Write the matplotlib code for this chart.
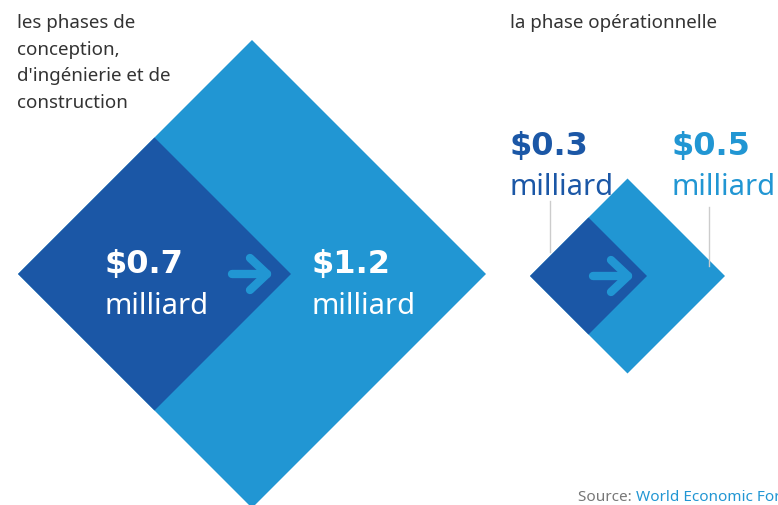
import matplotlib.pyplot as plt
from matplotlib.patches import Polygon

# values in billions of dollars
phases = ['les phases de\nconception,\nd\'ingénierie et de\nconstruction', 'la phase opérationnelle']
before = [0.7, 0.3]
after = [1.2, 0.5]
labels_before = ['$0.7', '$0.3']
labels_after = ['$1.2', '$0.5']
unit = 'milliard'

DARK = '#1b57a6'
LIGHT = '#2196d3'
TEXT = '#333333'
FONT = ['Noto Sans', 'DejaVu Sans']
BOLD = ['DejaVu Sans']

px_per_bn = 195.0
left_x = [18, 530]
mid_y = [275, 277]
arrow_x = [232, 593]

fig = plt.figure(figsize=(7.78, 5.06), dpi=100)
ax = fig.add_axes([0, 0, 1, 1])
ax.set_xlim(0, 778)
ax.set_ylim(506, 0)
ax.axis('off')


def diamond(x0, y0, half, color):
    cx = x0 + half
    pts = [(x0, y0), (cx, y0 - half), (cx + half, y0), (cx, y0 + half)]
    ax.add_patch(Polygon(pts, closed=True, facecolor=color, edgecolor='none'))


def arrow(x0, y0, color):
    ax.plot([x0, x0 + 35], [y0, y0], color=color, lw=6, solid_capstyle='round')
    ax.plot([x0 + 18, x0 + 35, x0 + 18], [y0 - 16, y0, y0 + 16], color=color, lw=6,
            solid_capstyle='round', solid_joinstyle='round')


for i in range(2):
    diamond(left_x[i], mid_y[i], after[i] * px_per_bn, LIGHT)
    diamond(left_x[i], mid_y[i], before[i] * px_per_bn, DARK)
    arrow(arrow_x[i], mid_y[i], LIGHT)

# left pair labels (inside)
ax.text(17, 14, phases[0], fontsize=13.5, color=TEXT, family=FONT, va='top', ha='left', linespacing=1.62)
ax.text(105, 264, labels_before[0], fontsize=23, color='white', family=BOLD, weight='bold', va='center')
ax.text(105, 306, unit, fontsize=21, color='white', family=FONT, va='center')
ax.text(312, 264, labels_after[0], fontsize=23, color='white', family=BOLD, weight='bold', va='center')
ax.text(312, 306, unit, fontsize=21, color='white', family=FONT, va='center')

# right pair labels (outside)
ax.text(510, 14, phases[1], fontsize=13.5, color=TEXT, family=FONT, va='top', ha='left')
ax.text(510, 146, labels_before[1], fontsize=23, color=DARK, family=BOLD, weight='bold', va='center')
ax.text(510, 187, unit, fontsize=21, color=DARK, family=FONT, va='center')
ax.text(672, 146, labels_after[1], fontsize=23, color=LIGHT, family=BOLD, weight='bold', va='center')
ax.text(672, 187, unit, fontsize=21, color=LIGHT, family=FONT, va='center')
ax.plot([550, 550], [202, 253], color='#cccccc', lw=1)
ax.plot([709, 709], [208, 267], color='#cccccc', lw=1)

src = ax.text(578, 498, 'Source: ', fontsize=11, color='#777777', family=FONT, va='center')
fig.canvas.draw()
bb = src.get_window_extent()
x_end = ax.transData.inverted().transform((bb.x1, bb.y0))[0]
ax.text(x_end, 498, 'World Economic Forum', fontsize=11, color=LIGHT, family=FONT, va='center')

fig.savefig('out.png', dpi=100)
